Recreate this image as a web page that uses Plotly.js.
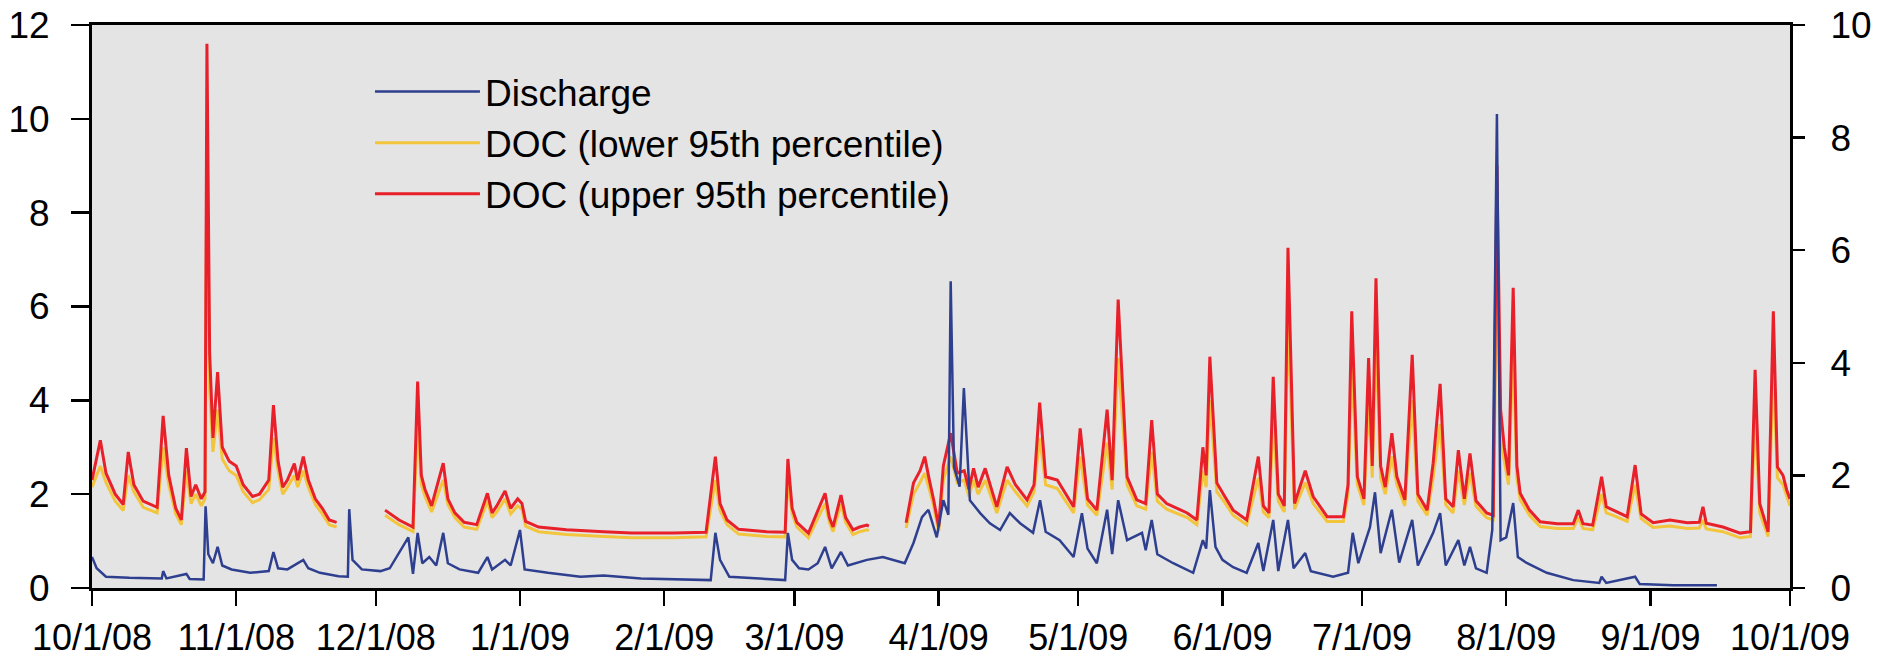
<!DOCTYPE html>
<html>
<head>
<meta charset="utf-8">
<script src="https://cdn.plot.ly/plotly-3.0.1.min.js"></script>
<style>
  html, body { margin: 0; padding: 0; background: #ffffff; }
  #chart { width: 1881px; height: 661px; }
</style>
</head>
<body>
<div id="chart"></div>
<script>
// ---- Data ----
const monthTicks = ['2008-10-01','2008-11-01','2008-12-01','2009-01-01','2009-02-01','2009-03-01',
  '2009-04-01','2009-05-01','2009-06-01','2009-07-01','2009-08-01','2009-09-01','2009-10-01'];
const monthLabels = ['10/1/08','11/1/08','12/1/08','1/1/09','2/1/09','3/1/09',
  '4/1/09','5/1/09','6/1/09','7/1/09','8/1/09','9/1/09','10/1/09'];
const leftTicks = [0, 2, 4, 6, 8, 10, 12];
const rightTicks = [0, 2, 4, 6, 8, 10];
const seriesNames = ['Discharge', 'DOC (lower 95th percentile)', 'DOC (upper 95th percentile)'];

// DOC (left axis)
const docDates = [
  '2008-10-01','2008-10-02 19:00','2008-10-04','2008-10-06','2008-10-07 17:00','2008-10-08 19:00',
  '2008-10-10','2008-10-12','2008-10-15','2008-10-16 07:00','2008-10-17 12:00','2008-10-19',
  '2008-10-20 05:00','2008-10-21 07:00','2008-10-22 07:00','2008-10-23 07:00','2008-10-24 12:00','2008-10-25 07:00',
  '2008-10-25 17:00','2008-10-26 07:00','2008-10-27','2008-10-28','2008-10-29','2008-10-30 12:00',
  '2008-11-01','2008-11-02 12:00','2008-11-04 12:00','2008-11-06','2008-11-08','2008-11-09',
  '2008-11-10','2008-11-11','2008-11-12','2008-11-13 12:00','2008-11-14 05:00','2008-11-15 10:00',
  '2008-11-16 12:00','2008-11-18','2008-11-19 12:00','2008-11-21','2008-11-22 14:00','2008-11-28',
  // segment 2
  '2008-12-03','2008-12-06','2008-12-09','2008-12-10','2008-12-10 19:00','2008-12-11 14:00',
  '2008-12-13','2008-12-15 12:00','2008-12-16 12:00','2008-12-18','2008-12-20','2008-12-22 17:00',
  '2008-12-25','2008-12-26','2008-12-27','2008-12-28 19:00','2008-12-30','2008-12-31 12:00',
  '2009-01-01 10:00','2009-01-02 05:00','2009-01-05','2009-01-11','2009-01-19','2009-01-25',
  '2009-02-03','2009-02-10','2009-02-12','2009-02-13','2009-02-14 12:00','2009-02-17',
  '2009-02-23','2009-02-27','2009-02-27 14:00','2009-02-28 12:00','2009-03-01 12:00','2009-03-04',
  '2009-03-07 14:00','2009-03-08 12:00','2009-03-09 07:00','2009-03-11','2009-03-12','2009-03-13 14:00',
  '2009-03-15','2009-03-16 14:00','2009-03-17','2009-03-20',
  // segment 3
  '2009-03-25','2009-03-26 14:00','2009-03-28','2009-03-29','2009-03-30','2009-03-30 22:00',
  '2009-04-01','2009-04-02','2009-04-03 14:00','2009-04-05','2009-04-06 12:00','2009-04-07 12:00',
  '2009-04-08 12:00','2009-04-09 12:00','2009-04-11','2009-04-13 12:00','2009-04-15 17:00','2009-04-17 12:00',
  '2009-04-20','2009-04-21 12:00','2009-04-22 17:00','2009-04-24','2009-04-26 12:00','2009-04-30',
  '2009-05-01 10:00','2009-05-03','2009-05-05','2009-05-07 05:00','2009-05-08 07:00','2009-05-09 14:00',
  '2009-05-11 12:00','2009-05-13 14:00','2009-05-15 12:00','2009-05-16 19:00','2009-05-18','2009-05-20',
  '2009-05-24 10:00','2009-05-26 12:00','2009-05-27 19:00','2009-05-28 12:00','2009-05-29 07:00','2009-05-30 19:00',
  '2009-06-01 12:00','2009-06-03 07:00','2009-06-06 05:00','2009-06-08 17:00','2009-06-09 19:00','2009-06-11',
  '2009-06-11 22:00','2009-06-13','2009-06-14 07:00','2009-06-15 02:00','2009-06-16 12:00','2009-06-18 19:00',
  '2009-06-20 12:00','2009-06-23 12:00','2009-06-27','2009-06-28','2009-06-28 19:00','2009-06-30',
  '2009-07-01 10:00','2009-07-02 10:00','2009-07-03 05:00','2009-07-04','2009-07-05','2009-07-06',
  '2009-07-07 10:00','2009-07-08 12:00','2009-07-10 05:00','2009-07-11 19:00','2009-07-13','2009-07-15',
  '2009-07-16 07:00','2009-07-17 19:00','2009-07-19','2009-07-20 14:00','2009-07-21 17:00','2009-07-23',
  '2009-07-24 05:00','2009-07-25 12:00','2009-07-27 19:00','2009-07-29 05:00','2009-07-30','2009-07-30 19:00',
  '2009-07-31 14:00','2009-08-01 12:00','2009-08-02 12:00','2009-08-03 07:00','2009-08-04','2009-08-06',
  '2009-08-08 07:00','2009-08-12','2009-08-15 10:00','2009-08-16 12:00','2009-08-17 12:00','2009-08-19 14:00',
  '2009-08-21 12:00','2009-08-22 12:00','2009-08-24','2009-08-27','2009-08-28 17:00','2009-08-30',
  '2009-09-01 14:00','2009-09-05 05:00','2009-09-08 22:00','2009-09-11 12:00','2009-09-12 07:00','2009-09-13',
  '2009-09-16 14:00','2009-09-20 07:00','2009-09-22 12:00','2009-09-23 12:00','2009-09-24 12:00','2009-09-26 07:00',
  '2009-09-27 10:00','2009-09-28 07:00','2009-09-29 12:00','2009-09-30 07:00','2009-10-01'
];
const docUpper = [
  2.3, 3.15, 2.45, 2.0, 1.78, 2.9,
  2.2, 1.85, 1.72, 3.67, 2.4, 1.7,
  1.45, 2.98, 1.95, 2.2, 1.9, 2.05,
  11.6, 5.0, 3.2, 4.6, 3.0, 2.7,
  2.6, 2.2, 1.95, 2.0, 2.3, 3.9,
  2.7, 2.15, 2.3, 2.65, 2.3, 2.8,
  2.3, 1.9, 1.7, 1.45, 1.4, null,
  1.66, 1.45, 1.3, 4.4, 2.4, 2.1,
  1.75, 2.66, 1.9, 1.6, 1.4, 1.35,
  2.02, 1.6, 1.75, 2.07, 1.7, 1.9,
  1.8, 1.42, 1.3, 1.24, 1.2, 1.17,
  1.17, 1.19, 2.8, 1.8, 1.45, 1.25,
  1.2, 1.19, 2.75, 1.7, 1.4, 1.17,
  2.02, 1.5, 1.3, 1.98, 1.5, 1.24,
  1.3, 1.34, 1.32, null,
  1.39, 2.24, 2.5, 2.8, 2.3, 1.88,
  1.3, 2.6, 3.3, 2.45, 2.5, 2.1,
  2.55, 2.15, 2.55, 1.73, 2.58, 2.2,
  1.88, 2.2, 3.95, 2.37, 2.3, 1.73,
  3.4, 1.9, 1.66, 3.8, 2.3, 6.15,
  2.37, 1.88, 1.8, 3.58, 2.0, 1.8,
  1.6, 1.45, 3.0, 2.4, 4.93, 2.24,
  1.95, 1.66, 1.45, 2.8, 1.75, 1.6,
  4.5, 2.0, 1.75, 7.25, 1.8, 2.5,
  1.95, 1.52, 1.52, 2.2, 5.9, 2.37,
  1.9, 4.9, 2.6, 6.6, 2.6, 2.15,
  3.3, 2.37, 1.88, 4.97, 2.0, 1.66,
  2.66, 4.35, 1.9, 1.73, 2.94, 1.9,
  2.87, 1.86, 1.6, 1.55, 9.0, 3.8,
  3.0, 2.4, 6.4, 2.6, 2.02, 1.66,
  1.41, 1.37, 1.37, 1.66, 1.37, 1.34,
  2.37, 1.73, 1.66, 1.52, 2.62, 1.58,
  1.39, 1.45, 1.39, 1.4, 1.73, 1.38,
  1.3, 1.17, 1.2, 4.65, 1.8, 1.2,
  5.9, 2.58, 2.4, 2.09, 1.9
];
const docLower = [
  2.15, 2.6, 2.25, 1.85, 1.65, 2.4,
  2.05, 1.72, 1.6, 3.0, 2.2, 1.58,
  1.35, 2.5, 1.8, 2.0, 1.75, 1.9,
  9.5, 4.2, 2.9, 3.8, 2.75, 2.5,
  2.4, 2.05, 1.82, 1.88, 2.1, 3.2,
  2.5, 2.0, 2.15, 2.4, 2.15, 2.5,
  2.15, 1.78, 1.58, 1.35, 1.3, null,
  1.55, 1.35, 1.2, 3.5, 2.2, 1.95,
  1.62, 2.3, 1.78, 1.5, 1.3, 1.25,
  1.85, 1.5, 1.62, 1.9, 1.58, 1.75,
  1.68, 1.32, 1.2, 1.14, 1.1, 1.07,
  1.07, 1.09, 2.3, 1.65, 1.35, 1.15,
  1.1, 1.09, 2.3, 1.58, 1.3, 1.07,
  1.8, 1.4, 1.2, 1.78, 1.4, 1.14,
  1.2, 1.24, 1.22, null,
  1.28, 2.0, 2.25, 2.45, 2.1, 1.75,
  1.2, 2.3, 2.8, 2.25, 2.3, 1.95,
  2.3, 2.0, 2.3, 1.6, 2.3, 2.05,
  1.75, 2.05, 3.2, 2.2, 2.12, 1.6,
  2.8, 1.77, 1.55, 3.1, 2.1, 4.9,
  2.2, 1.75, 1.68, 2.9, 1.85, 1.68,
  1.5, 1.35, 2.5, 2.15, 4.0, 2.05,
  1.82, 1.55, 1.35, 2.35, 1.62, 1.5,
  3.6, 1.85, 1.62, 5.8, 1.68, 2.25,
  1.8, 1.42, 1.42, 2.0, 4.7, 2.2,
  1.77, 4.0, 2.35, 5.3, 2.35, 2.0,
  2.8, 2.2, 1.75, 4.0, 1.85, 1.55,
  2.35, 3.5, 1.77, 1.6, 2.5, 1.77,
  2.45, 1.74, 1.5, 1.45, 7.2, 3.2,
  2.7, 2.2, 5.1, 2.35, 1.88, 1.55,
  1.31, 1.27, 1.27, 1.5, 1.27, 1.24,
  2.0, 1.6, 1.55, 1.42, 2.2, 1.48,
  1.29, 1.32, 1.27, 1.28, 1.45, 1.26,
  1.2, 1.07, 1.1, 3.7, 1.6, 1.1,
  4.7, 2.35, 2.2, 1.95, 1.75
];

// Discharge (right axis)
const qDates = [
  '2008-10-01','2008-10-02','2008-10-04','2008-10-09','2008-10-16','2008-10-16 07:00',
  '2008-10-17','2008-10-21 07:00','2008-10-22','2008-10-25','2008-10-25 10:00','2008-10-26',
  '2008-10-27','2008-10-28','2008-10-29','2008-10-31','2008-11-04','2008-11-08',
  '2008-11-09','2008-11-10','2008-11-12','2008-11-15 10:00','2008-11-16 12:00','2008-11-19',
  '2008-11-23','2008-11-25','2008-11-25 07:00','2008-11-26','2008-11-28','2008-12-02',
  '2008-12-04','2008-12-08','2008-12-09','2008-12-10','2008-12-11','2008-12-12 12:00',
  '2008-12-14','2008-12-15 12:00','2008-12-16 12:00','2008-12-19','2008-12-23','2008-12-25',
  '2008-12-26','2008-12-28 19:00','2008-12-30','2009-01-01','2009-01-02','2009-01-07',
  '2009-01-14','2009-01-19','2009-01-27','2009-02-04','2009-02-11','2009-02-12',
  '2009-02-13','2009-02-15','2009-02-27','2009-02-27 14:00','2009-02-28 12:00','2009-03-02',
  '2009-03-04','2009-03-06','2009-03-07 14:00','2009-03-09','2009-03-11','2009-03-12 12:00',
  '2009-03-16 14:00','2009-03-20','2009-03-24 17:00','2009-03-26 14:00','2009-03-28 10:00','2009-03-29 19:00',
  '2009-03-31 14:00','2009-04-02','2009-04-03 02:00','2009-04-03 14:00','2009-04-04 07:00','2009-04-05 12:00',
  '2009-04-06 10:00','2009-04-07 17:00','2009-04-09 22:00','2009-04-12','2009-04-14 05:00','2009-04-16 07:00',
  '2009-04-18 12:00','2009-04-21 07:00','2009-04-22 19:00','2009-04-24','2009-04-27','2009-04-30',
  '2009-05-01 19:00','2009-05-03','2009-05-05','2009-05-07 05:00','2009-05-08 07:00','2009-05-09 14:00',
  '2009-05-11 12:00','2009-05-14 17:00','2009-05-15 12:00','2009-05-16 19:00','2009-05-18','2009-05-21 10:00',
  '2009-05-25 17:00','2009-05-27 19:00','2009-05-28 12:00','2009-05-29 07:00','2009-05-30 12:00','2009-06-01',
  '2009-06-03 07:00','2009-06-06 05:00','2009-06-08 17:00','2009-06-09 19:00','2009-06-11 22:00','2009-06-13',
  '2009-06-15 02:00','2009-06-16 07:00','2009-06-18 19:00','2009-06-20','2009-06-24 19:00','2009-06-28',
  '2009-06-29','2009-06-30 05:00','2009-07-02 17:00','2009-07-03 19:00','2009-07-05','2009-07-07 10:00',
  '2009-07-09','2009-07-11 19:00','2009-07-13','2009-07-16 07:00','2009-07-17 19:00','2009-07-19',
  '2009-07-21 17:00','2009-07-23','2009-07-24 05:00','2009-07-25 12:00','2009-07-27 19:00','2009-07-29',
  '2009-07-30','2009-07-30 19:00','2009-08-01','2009-08-02 12:00','2009-08-03 12:00','2009-08-05 12:00',
  '2009-08-09 17:00','2009-08-15 10:00','2009-08-21','2009-08-21 12:00','2009-08-22 12:00','2009-08-28 17:00',
  '2009-08-29 17:00','2009-09-05 22:00','2009-09-15 07:00'
];
const discharge = [
  0.55, 0.35, 0.2, 0.18, 0.17, 0.3,
  0.17, 0.25, 0.16, 0.15, 1.45, 0.6,
  0.44, 0.73, 0.4, 0.33, 0.27, 0.3,
  0.64, 0.35, 0.33, 0.5, 0.35, 0.27,
  0.21, 0.2, 1.4, 0.5, 0.33, 0.3,
  0.35, 0.9, 0.25, 0.98, 0.44, 0.55,
  0.4, 0.98, 0.44, 0.33, 0.27, 0.55,
  0.33, 0.5, 0.4, 1.03, 0.33, 0.27,
  0.2, 0.22, 0.17, 0.15, 0.14, 0.98,
  0.5, 0.2, 0.14, 0.98, 0.5, 0.35,
  0.33, 0.44, 0.73, 0.35, 0.64, 0.4,
  0.5, 0.55, 0.44, 0.8, 1.26, 1.39,
  0.9, 1.56, 1.3, 5.45, 2.15, 1.8,
  3.55, 1.56, 1.33, 1.15, 1.03, 1.33,
  1.15, 0.98, 1.56, 1.0, 0.85, 0.55,
  1.33, 0.7, 0.44, 1.39, 0.6, 1.56,
  0.85, 0.98, 0.67, 1.21, 0.6, 0.44,
  0.27, 0.85, 0.7, 1.74, 0.73, 0.5,
  0.37, 0.27, 0.8, 0.3, 1.21, 0.3,
  1.21, 0.35, 0.62, 0.3, 0.2, 0.27,
  0.98, 0.44, 1.08, 1.7, 0.62, 1.39,
  0.45, 1.21, 0.4, 0.98, 1.33, 0.4,
  0.85, 0.4, 0.73, 0.35, 0.27, 1.03,
  8.42, 0.85, 0.9, 1.51, 0.55, 0.44,
  0.27, 0.14, 0.09, 0.2, 0.09, 0.2,
  0.07, 0.05, 0.05
];

// ---- Traces ----
const traces = [
  { x: qDates, y: discharge, name: seriesNames[0], type: 'scatter', mode: 'lines', yaxis: 'y2',
    line: { color: '#2e3f8f', width: 2.5 } },
  { x: docDates, y: docLower, name: seriesNames[1], type: 'scatter', mode: 'lines', yaxis: 'y',
    line: { color: '#f2c53d', width: 3 } },
  { x: docDates, y: docUpper, name: seriesNames[2], type: 'scatter', mode: 'lines', yaxis: 'y',
    line: { color: '#e8202a', width: 3 } }
];

const fam = 'Liberation Sans, Arial, sans-serif';
const yTickFont = { family: fam, size: 37, color: '#000' };
const xTickFont = { family: fam, size: 36, color: '#000' };

const layout = {
  width: 1881, height: 661,
  margin: { l: 92, r: 91, t: 25, b: 73, pad: 0 },
  paper_bgcolor: '#ffffff',
  plot_bgcolor: '#e4e4e4',
  font: { family: fam, size: 37, color: '#000' },
  showlegend: true,
  hovermode: false,
  legend: {
    x: 0.1637, y: 0.936, xanchor: 'left', yanchor: 'top',
    bgcolor: 'rgba(0,0,0,0)', borderwidth: 0,
    font: { family: fam, size: 37, color: '#000' },
    itemwidth: 105, traceorder: 'normal'
  },
  xaxis: {
    type: 'date', range: ['2008-10-01', '2009-10-01'],
    tickmode: 'array', tickvals: monthTicks, ticktext: monthLabels,
    ticks: 'outside', ticklen: 15, tickwidth: 2.5, tickcolor: '#000',
    showline: true, linewidth: 3, linecolor: '#000', mirror: true,
    showgrid: false, zeroline: false, tickfont: xTickFont,
    ticklabelstandoff: 1, automargin: false, fixedrange: true
  },
  yaxis: {
    range: [0, 12], tickmode: 'array', tickvals: leftTicks, ticktext: leftTicks.map(String),
    ticks: 'outside', ticklen: 18, tickwidth: 2.5, tickcolor: '#000',
    showline: true, linewidth: 3, linecolor: '#000',
    showgrid: false, zeroline: false, tickfont: yTickFont,
    ticklabelstandoff: 14, automargin: false, fixedrange: true
  },
  yaxis2: {
    overlaying: 'y', side: 'right', anchor: 'x',
    range: [0, 10], tickmode: 'array', tickvals: rightTicks, ticktext: rightTicks.map(String),
    ticks: 'outside', ticklen: 12, tickwidth: 2.5, tickcolor: '#000',
    showline: true, linewidth: 3, linecolor: '#000',
    showgrid: false, zeroline: false, tickfont: yTickFont,
    ticklabelstandoff: 18, automargin: false, fixedrange: true
  }
};

Plotly.newPlot('chart', traces, layout, { staticPlot: true, displayModeBar: false });
</script>
</body>
</html>
